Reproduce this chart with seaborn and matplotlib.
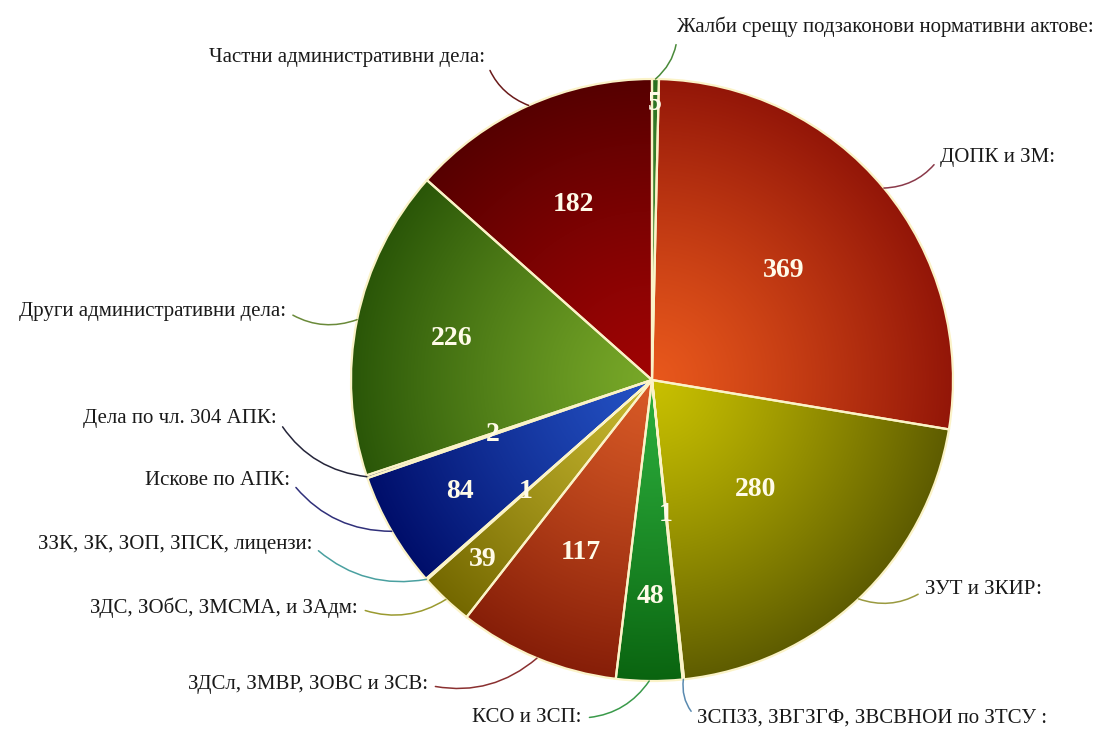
import numpy as np
import matplotlib
matplotlib.use("Agg")
import matplotlib.pyplot as plt
import seaborn as sns

# Data (clockwise from 12 o'clock)
categories = [
    "Жалби срещу подзаконови нормативни актове:",
    "ДОПК и ЗМ:",
    "ЗУТ и ЗКИР:",
    "ЗСПЗЗ, ЗВГЗГФ, ЗВСВНОИ по ЗТСУ :",
    "КСО и ЗСП:",
    "ЗДСл, ЗМВР, ЗОВС и ЗСВ:",
    "ЗДС, ЗОбС, ЗМСМА, и ЗАдм:",
    "ЗЗК, ЗК, ЗОП, ЗПСК, лицензи:",
    "Искове по АПК:",
    "Дела по чл. 304 АПК:",
    "Други административни дела:",
    "Частни административни дела:",
]
counts = [5, 369, 280, 1, 48, 117, 39, 1, 84, 2, 226, 182]

# gradient colours per slice (near centre, near rim)
light = ["#5aa040", "#e8581c", "#c8c000", "#70b0e0", "#2cae3c", "#d85a26",
         "#c8b830", "#60c0b0", "#2452c4", "#4060a0", "#78a828", "#a00404"]
dark = ["#2a7020", "#931608", "#5e5c00", "#3070a0", "#0a6410", "#861e08",
        "#746800", "#2a8070", "#000e6a", "#202060", "#2a5608", "#560000"]
line_colors = ["#4a8a3a", "#8a3a4a", "#9a9a40", "#5a8ab0", "#3a9a4a", "#8a3030",
               "#9a9a30", "#4aa0a0", "#30307a", "#25253a", "#6a8a3a", "#6a1a1a"]

# layout: where each value sits (fraction of radius) and label anchors (pixels)
value_r = [0.92, 0.57, 0.5, 0.45, 0.72, 0.62, 0.82, 0.56, 0.74, 0.56, 0.68, 0.64]
label_px = [(677, 27), (940, 157), (925, 590), (697, 718), (582, 718), (428, 685),
            (358, 608), (312, 545), (290, 480), (277, 418), (286, 311), (485, 57)]
label_ha = ["left", "left", "left", "left", "right", "right",
            "right", "right", "right", "right", "right", "right"]

W, H = 1110, 751
CX, CY, R = 652, 380, 301


def px(x, y):
    return (x - CX) / R, (CY - y) / R


sns.set_style("white")
plt.rcParams["font.family"] = ["Liberation Serif", "DejaVu Serif"]

fig = plt.figure(figsize=(W / 100, H / 100), dpi=100)
ax = fig.add_axes([0, 0, 1, 1])

wedges, _ = ax.pie(counts, startangle=90, counterclock=False, radius=1,
                   wedgeprops=dict(edgecolor="#fbf3c8", linewidth=1.6))

# radial gradient fill clipped to each wedge
yy, xx = np.mgrid[-1:1:500j, -1:1:500j]
t = np.clip(np.sqrt(xx ** 2 + yy ** 2), 0, 1)[..., None] ** 1.2
for w, c0, c1 in zip(wedges, light, dark):
    a = np.array(matplotlib.colors.to_rgb(c0))
    b = np.array(matplotlib.colors.to_rgb(c1))
    img = a * (1 - t) + b * t
    im = ax.imshow(img, extent=(-1, 1, -1, 1), origin="lower", zorder=1,
                   interpolation="bilinear")
    im.set_clip_path(w)
    w.set_facecolor("none")
    w.set_zorder(2)

for i, w in enumerate(wedges):
    mid = np.deg2rad((w.theta1 + w.theta2) / 2)
    r = value_r[i]
    ax.text(r * np.cos(mid), r * np.sin(mid), str(counts[i]), ha="center", va="center",
            fontsize=20, fontweight="bold", color="#fffbe8", zorder=4)

    tx, ty = px(*label_px[i])
    ha = label_ha[i]
    rad = -0.25 if ha == "left" else 0.25
    ax.annotate(categories[i], xy=(np.cos(mid), np.sin(mid)), xytext=(tx, ty),
                ha=ha, va="center", fontsize=15, color="#1a1a1a", zorder=5,
                arrowprops=dict(arrowstyle="-", color=line_colors[i], lw=1.1,
                                shrinkA=3, shrinkB=0,
                                relpos=(0, 0.5) if ha == "left" else (1, 0.5),
                                connectionstyle=f"arc3,rad={rad}"))

ax.set_xlim(-CX / R, (W - CX) / R)
ax.set_ylim(-(H - CY) / R, CY / R)
ax.set_aspect("equal", adjustable="datalim")
ax.axis("off")

plt.savefig("out.png", dpi=100, facecolor="white")
